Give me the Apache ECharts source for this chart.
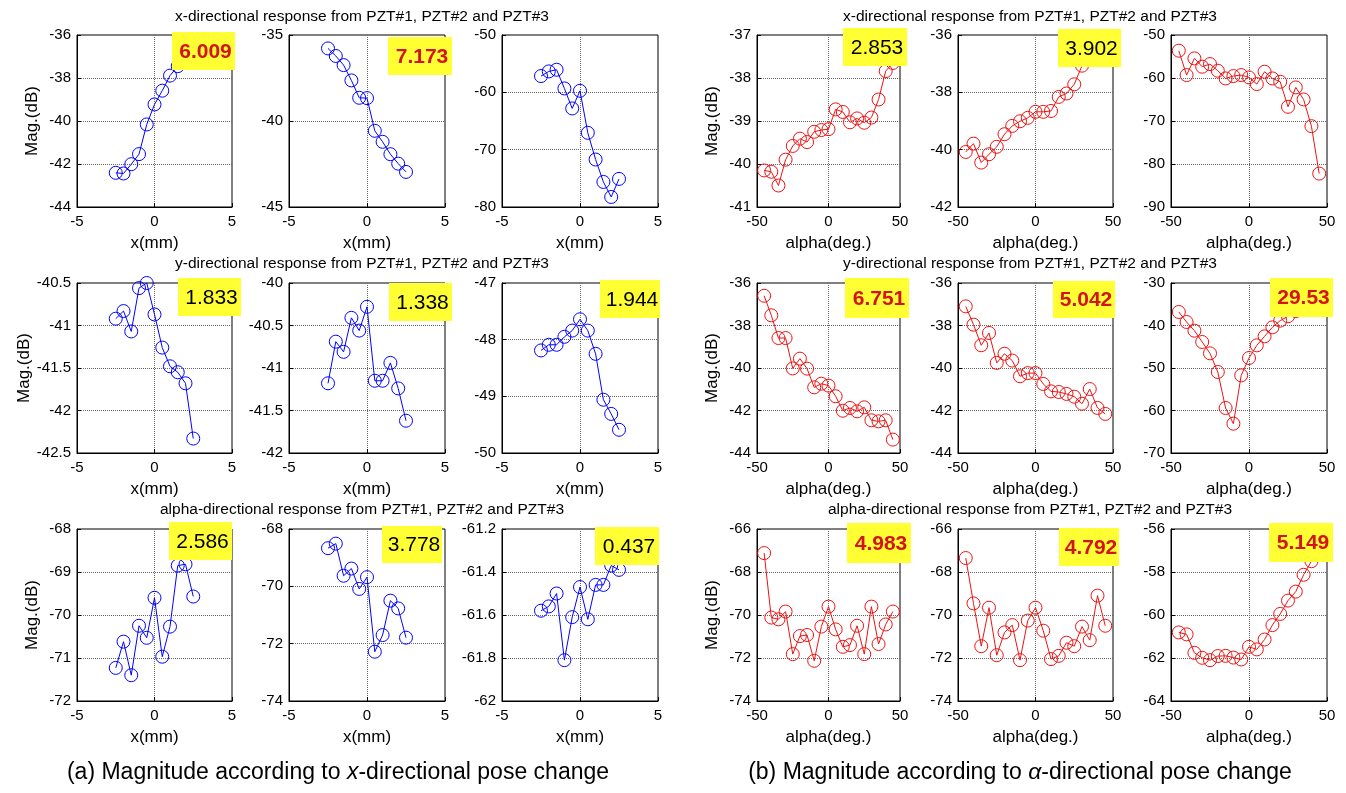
<!DOCTYPE html>
<html>
<head>
<meta charset="utf-8">
<script src="https://cdn.jsdelivr.net/npm/echarts@6/dist/echarts.min.js"></script>
<style>
html, body { margin: 0; padding: 0; background: #fff; }
#chart { width: 1346px; height: 793px; }
</style>
</head>
<body>
<div id="chart"></div>
<script>
// sweep positions
var xMm = [-2.5, -2, -1.5, -1, -0.5, 0, 0.5, 1, 1.5, 2, 2.5];
var alphaDeg = [-45, -40, -35, -30, -25, -20, -15, -10, -5, 0, 5, 10, 15, 20, 25, 30, 35, 40, 45];

// (a) x-directional pose change, PZT#1..3 for x / y / alpha responses
var aX1 = [-42.41, -42.44, -42.01, -41.54, -40.16, -39.23, -38.59, -37.89, -37.45, -36.95, -36.43];
var aX2 = [-35.78, -36.22, -36.75, -37.64, -38.65, -38.67, -40.57, -41.21, -41.93, -42.48, -42.96];
var aX3 = [-57.16, -56.35, -56.06, -59.32, -62.81, -59.73, -67.06, -71.72, -75.63, -78.25, -75.10];
var aY1 = [-40.92, -40.83, -41.07, -40.56, -40.50, -40.87, -41.26, -41.48, -41.55, -41.68, -42.33];
var aY2 = [-41.18, -40.69, -40.81, -40.41, -40.56, -40.28, -41.15, -41.15, -40.94, -41.24, -41.62];
var aY3 = [-48.19, -48.09, -48.09, -47.95, -47.84, -47.64, -47.84, -48.25, -49.06, -49.31, -49.59];
var aA1 = [-71.23, -70.62, -71.40, -70.25, -70.53, -69.60, -70.97, -70.27, -68.85, -68.82, -69.57];
var aA2 = [-68.67, -68.51, -69.63, -69.38, -70.09, -69.68, -72.28, -71.70, -70.50, -70.77, -71.79];
var aA3 = [-61.58, -61.56, -61.50, -61.81, -61.61, -61.47, -61.62, -61.46, -61.46, -61.37, -61.39];

// (b) alpha-directional pose change
var bX1 = [-40.15, -40.18, -40.50, -39.90, -39.58, -39.41, -39.49, -39.25, -39.21, -39.19, -38.73, -38.79, -39.03, -38.94, -39.04, -38.92, -38.50, -37.84, -37.65];
var bX2 = [-40.08, -39.79, -40.45, -40.16, -39.90, -39.46, -39.17, -39.01, -38.89, -38.68, -38.68, -38.65, -38.16, -38.04, -37.72, -37.07, -36.80, -36.62, -36.55];
var bX3 = [-53.65, -59.32, -55.44, -57.38, -56.76, -58.31, -60.10, -59.55, -59.32, -59.86, -61.42, -58.54, -60.10, -60.87, -66.70, -62.19, -64.99, -71.20, -82.23];
var bY1 = [-36.60, -37.52, -38.59, -38.59, -40.02, -39.56, -40.03, -40.91, -40.74, -40.83, -41.33, -42.01, -41.88, -42.04, -41.85, -42.46, -42.51, -42.46, -43.37];
var bY2 = [-37.10, -37.96, -38.93, -38.35, -39.76, -39.33, -39.65, -40.39, -40.24, -40.24, -40.75, -41.10, -41.13, -41.22, -41.35, -41.68, -40.99, -41.88, -42.16];
var bY3 = [-36.82, -39.18, -41.22, -43.88, -46.55, -50.94, -59.41, -63.10, -51.73, -47.65, -44.67, -42.55, -40.43, -38.86, -37.84, -36.60, -35.40, -34.40, -33.57];
var bA1 = [-67.12, -70.12, -70.20, -69.84, -71.82, -70.98, -70.93, -72.13, -70.54, -69.61, -70.67, -71.48, -71.40, -70.50, -71.82, -69.61, -71.35, -70.44, -69.84];
var bA2 = [-67.35, -69.46, -71.45, -69.66, -71.87, -70.81, -70.47, -72.10, -70.26, -69.66, -70.73, -72.05, -71.90, -71.29, -71.45, -70.54, -71.17, -69.10, -70.50];
var bA3 = [-60.81, -60.90, -61.76, -61.99, -62.10, -61.91, -61.90, -61.98, -62.07, -61.48, -61.60, -61.14, -60.47, -59.95, -59.33, -58.91, -58.13, -57.50, -56.95];

// y-axis ticks (min, max, step) per subplot
var aYMin  = [-44, -45, -80, -42.5, -42, -50, -72, -74, -62];
var aYMax  = [-36, -35, -50, -40.5, -40, -47, -68, -68, -61.2];
var aYStep = [2, 5, 10, 0.5, 0.5, 1, 1, 2, 0.2];
var bYMin  = [-41, -42, -90, -44, -44, -70, -74, -74, -64];
var bYMax  = [-37, -36, -50, -36, -36, -30, -66, -66, -56];
var bYStep = [1, 2, 10, 2, 2, 10, 2, 2, 2];

// max-min spread shown in the yellow boxes
var aSpread = ['6.009', '7.173', null, '1.833', '1.338', '1.944', '2.586', '3.778', '0.437'];
var bSpread = ['2.853', '3.902', null, '6.751', '5.042', '29.53', '4.983', '4.792', '5.149'];

var rowTitles = ['x-directional response from PZT#1, PZT#2 and PZT#3',
                 'y-directional response from PZT#1, PZT#2 and PZT#3',
                 'alpha-directional response from PZT#1, PZT#2 and PZT#3'];

// ---- layout ----
var font = 'Arial, "Liberation Sans", Helvetica, sans-serif';
var rowTop = [35, 283, 529];
var rowH = [172, 170, 172];
var aColLeft = [77, 289, 502], aColW = [155, 156, 156];
var bColLeft = [757, 958, 1171], bColW = [143, 155, 156];
var aBoxRect = [[172, 32, 63, 38], [388, 37, 64, 38], null, [178, 278, 63, 38], [389, 283, 63, 38], [600, 280, 60, 38], [169, 522, 63, 38], [382, 526, 60, 37], [595, 527, 64, 38]];
var bBoxRect = [[843, 28, 64, 38], [1058, 29, 63, 38], null, [845, 278, 64, 40], [1053, 281, 62, 37], [1270, 278, 63, 39], [847, 523, 64, 40], [1059, 528, 60, 38], [1269, 523, 64, 39]];

var option = { animation: false, grid: [], xAxis: [], yAxis: [], series: [], graphic: [] };

function zip(xs, ys) {
  return xs.map(function (x, i) { return [x, ys[i]]; });
}

function addPlot(left, top, width, height, xs, ys, color, yMin, yMax, yStep, xMax, xName, yName) {
  var i = option.grid.length;
  option.grid.push({ left: left, top: top, width: width, height: height,
    show: true, borderColor: '#000', borderWidth: 1, containLabel: false });
  var split = { show: true, showMinLine: false, showMaxLine: false, lineStyle: { color: '#666', type: 'dotted', width: 1 } };
  option.xAxis.push({
    gridIndex: i, type: 'value', min: -xMax, max: xMax, interval: xMax,
    axisLine: { show: true, onZero: false, lineStyle: { color: '#000' } },
    axisTick: { inside: true, length: 4, lineStyle: { color: '#000' } },
    axisLabel: { color: '#000', fontSize: 15, fontFamily: font, margin: 7 },
    splitLine: split,
    name: xName, nameLocation: 'middle', nameGap: 28,
    nameTextStyle: { color: '#000', fontSize: 17, fontFamily: font }
  });
  option.yAxis.push({
    gridIndex: i, type: 'value', min: yMin, max: yMax, interval: yStep,
    axisLine: { show: true, onZero: false, lineStyle: { color: '#000' } },
    axisTick: { inside: true, length: 4, lineStyle: { color: '#000' } },
    axisLabel: { color: '#000', fontSize: 15, fontFamily: font, margin: 6 },
    splitLine: split,
    name: yName, nameLocation: 'middle', nameGap: 36,
    nameTextStyle: { color: '#000', fontSize: 17, fontFamily: font }
  });
  option.series.push({
    type: 'line', xAxisIndex: i, yAxisIndex: i, data: zip(xs, ys),
    symbol: 'circle', symbolSize: 13, showAllSymbol: true,
    itemStyle: { color: 'rgba(0,0,0,0)', borderColor: color, borderWidth: 1 },
    lineStyle: { color: color, width: 1 },
    emphasis: { disabled: true }, silent: true
  });
}

function addBox(rect, text, bold) {
  if (!rect) return;
  option.graphic.push({ type: 'rect', z: 100, shape: { x: rect[0], y: rect[1], width: rect[2], height: rect[3] },
    style: { fill: '#ffff33' } });
  option.graphic.push({ type: 'text', z: 101, x: rect[0] + rect[2] / 2 + 2, y: rect[1] + rect[3] / 2 + 1,
    style: { text: text, fill: bold ? '#d4141c' : '#000',
      font: (bold ? 'bold ' : '') + '21px ' + font,
      align: 'center', verticalAlign: 'middle', textAlign: 'center', textVerticalAlign: 'middle' } });
}

var aSets = [aX1, aX2, aX3, aY1, aY2, aY3, aA1, aA2, aA3];
var bSets = [bX1, bX2, bX3, bY1, bY2, bY3, bA1, bA2, bA3];

for (var k = 0; k < 9; k++) {
  var r = Math.floor(k / 3), c = k % 3;
  addPlot(aColLeft[c], rowTop[r], aColW[c], rowH[r], xMm, aSets[k], '#0000ff',
    aYMin[k], aYMax[k], aYStep[k], 5, 'x(mm)', c === 0 ? 'Mag.(dB)' : '');
  addPlot(bColLeft[c], rowTop[r], bColW[c], rowH[r], alphaDeg, bSets[k], '#ee1111',
    bYMin[k], bYMax[k], bYStep[k], 50, 'alpha(deg.)', c === 0 ? 'Mag.(dB)' : '');
}
for (var k = 0; k < 9; k++) {
  addBox(aBoxRect[k], aSpread[k], k < 3);
  addBox(bBoxRect[k], bSpread[k], k >= 3);
}

var titleY = [17, 264, 510];
for (var r = 0; r < 3; r++) {
  [362, 1030].forEach(function (cx) {
    option.graphic.push({ type: 'text', x: cx, y: titleY[r],
      style: { text: rowTitles[r], fill: '#000', font: '15.5px ' + font,
        align: 'center', verticalAlign: 'middle', textAlign: 'center', textVerticalAlign: 'middle' } });
  });
}

// panel captions
[[338, '(a) Magnitude according to {i|x}-directional pose change'],
 [1020, '(b) Magnitude according to {i|\u03b1}-directional pose change']].forEach(function (cap) {
  option.graphic.push({ type: 'text', x: cap[0], y: 773,
    style: { text: cap[1], fill: '#000', fontSize: 23, fontFamily: font,
      align: 'center', verticalAlign: 'middle', textAlign: 'center', textVerticalAlign: 'middle',
      rich: { i: { fontStyle: 'italic', fontSize: 23, fontFamily: font, fill: '#000' } } } });
});

var myChart = echarts.init(document.getElementById('chart'));
myChart.setOption(option);
</script>
</body>
</html>
